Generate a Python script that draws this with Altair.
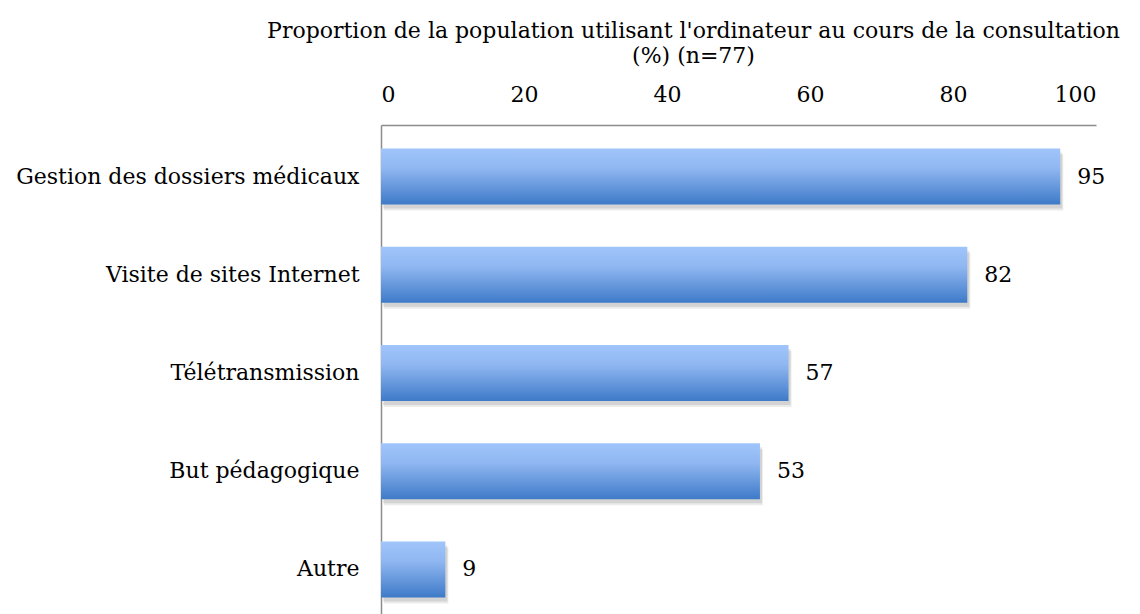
import altair as alt
import pandas as pd

categories = ["Gestion des dossiers médicaux", "Visite de sites Internet", "Télétransmission", "But pédagogique", "Autre"]
values = [95, 82, 57, 53, 9]

df = pd.DataFrame({"cat": categories, "val": values})

FONT = "DejaVu Serif"

y_enc = alt.Y("cat:N", sort=categories,
              scale=alt.Scale(paddingInner=0.43, paddingOuter=0.24),
              axis=alt.Axis(title=None, ticks=False, domain=True, domainColor="#8c8c8c", domainWidth=1.5,
                            labelFont=FONT, labelFontSize=22, labelColor="#000000", labelPadding=22,
                            labelLimit=400))
x_enc = alt.X("val:Q", scale=alt.Scale(domain=[0, 100], nice=False),
              axis=alt.Axis(orient="top", values=[0, 20, 40, 60, 80, 100], grid=False, ticks=False,
                            domainColor="#8c8c8c", domainWidth=1.5,
                            labelFont=FONT, labelFontSize=22, labelColor="#000000", labelPadding=19,
                            title=["Proportion de la population utilisant l'ordinateur au cours de la consultation", "(%) (n=77)"],
                            titleFont=FONT, titleFontSize=22, titleFontWeight="normal", titleColor="#000000",
                            titlePadding=16, titleX=312, titleLineHeight=25))

base = alt.Chart(df)

shadow1 = base.mark_bar(color="#000000", opacity=0.10, xOffset=2, yOffset=4).encode(y=y_enc, x=x_enc)
shadow2 = base.mark_bar(color="#000000", opacity=0.08, xOffset=3, yOffset=6).encode(y=y_enc, x=x_enc)

bars = base.mark_bar(
    color=alt.Gradient(gradient="linear", x1=0, x2=0, y1=0, y2=1,
                       stops=[alt.GradientStop(offset=0, color="#a0c5fb"),
                              alt.GradientStop(offset=0.35, color="#90b7f1"),
                              alt.GradientStop(offset=1, color="#3e7ac8")])
).encode(y=y_enc, x=x_enc)

labels = base.mark_text(align="left", baseline="middle", dx=17, font=FONT, fontSize=22, color="#000000").encode(
    y=y_enc, x=x_enc, text="val:Q")

chart = alt.layer(shadow2, shadow1, bars, labels).properties(
    width=715, height=496,
    autosize=alt.AutoSizeParams(type="none"),
    padding={"left": 373, "top": 117, "right": 30, "bottom": 0},
).configure(background="#ffffff").configure_view(stroke=None)

chart.save("out.html", embed_options={"renderer": "svg", "actions": False})
